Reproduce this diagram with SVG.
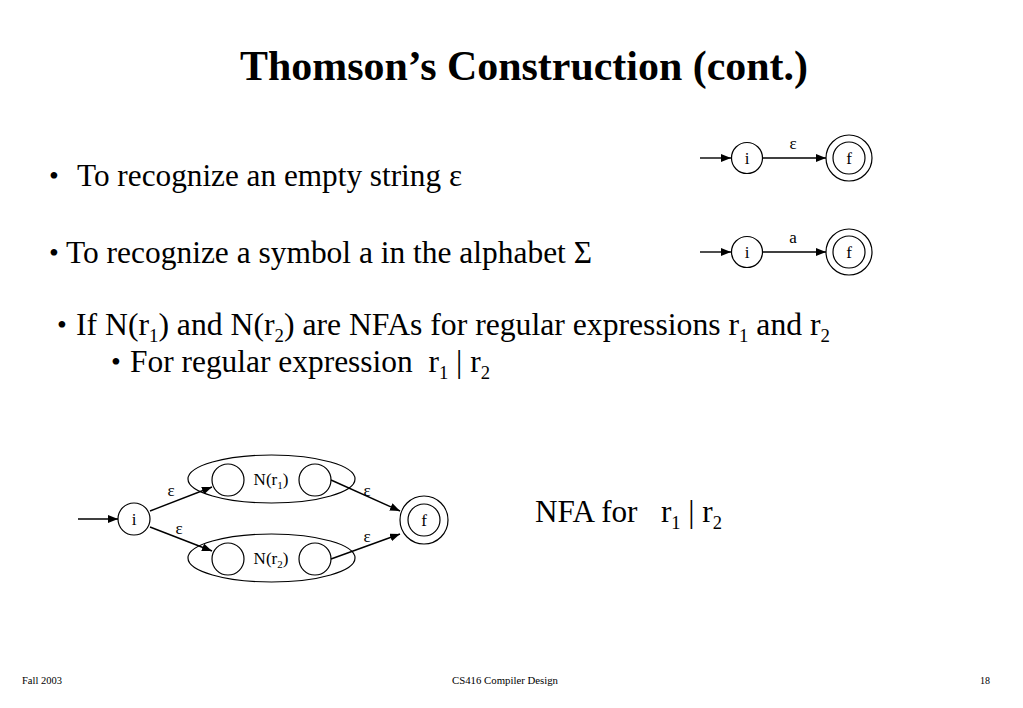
<svg xmlns="http://www.w3.org/2000/svg" width="1023" height="708" viewBox="0 0 1023 708">
<style>
text{font-family:"Liberation Serif","Times New Roman",serif;fill:#000}
.t{font-size:32px}
.b{font-size:28px}
.s{font-size:19px}
.n{font-size:17px}
.ns{font-size:11px}
.f{font-size:11px}
.st{fill:#fff;stroke:#000;stroke-width:1.2}
.e{fill:none;stroke:#000;stroke-width:1.4}
</style>
<defs>
<marker id="ah" viewBox="0 0 10 8" refX="10" refY="4" markerWidth="10" markerHeight="8" markerUnits="userSpaceOnUse" orient="auto">
<path d="M0,0 L10,4 L0,8 z" fill="#000"/>
</marker>
</defs>
<rect width="1023" height="708" fill="#fff"/>

<text x="240" y="80" font-size="43" font-weight="bold" textLength="568" lengthAdjust="spacingAndGlyphs">Thomson’s Construction (cont.)</text>

<text class="b" x="49" y="185">•</text>
<text class="t" x="77" y="186" textLength="385" lengthAdjust="spacingAndGlyphs">To recognize an empty string ε</text>
<text class="b" x="49" y="262">•</text>
<text class="t" x="66" y="263" textLength="526" lengthAdjust="spacingAndGlyphs">To recognize a symbol a in the alphabet Σ</text>
<text class="b" x="57" y="334">•</text>
<text class="t" x="76" y="335" textLength="754" lengthAdjust="spacingAndGlyphs">If N(r<tspan class="s" dy="7">1</tspan><tspan dy="-7">) and N(r</tspan><tspan class="s" dy="7">2</tspan><tspan dy="-7">) are NFAs for regular expressions r</tspan><tspan class="s" dy="7">1</tspan><tspan dy="-7"> and r</tspan><tspan class="s" dy="7">2</tspan></text>
<text class="b" x="111" y="371">•</text>
<text class="t" x="130" y="372" textLength="360" lengthAdjust="spacingAndGlyphs" xml:space="preserve">For regular expression  r<tspan class="s" dy="7">1</tspan><tspan dy="-7"> | r</tspan><tspan class="s" dy="7">2</tspan></text>
<text class="t" x="535" y="522" textLength="187" lengthAdjust="spacingAndGlyphs" xml:space="preserve">NFA for   r<tspan class="s" dy="7">1</tspan><tspan dy="-7"> | r</tspan><tspan class="s" dy="7">2</tspan></text>

<g id="i1"><circle class="st" cx="747" cy="158" r="15.5"/><text class="n" x="747" y="164" text-anchor="middle">i</text></g>
<g id="f1"><circle class="st" cx="849" cy="158" r="23"/><circle class="st" cx="849" cy="158" r="16"/><text class="n" x="849" y="164" text-anchor="middle">f</text></g>
<g id="i2"><circle class="st" cx="747" cy="252" r="15.5"/><text class="n" x="747" y="258" text-anchor="middle">i</text></g>
<g id="f2"><circle class="st" cx="849" cy="252" r="23"/><circle class="st" cx="849" cy="252" r="16"/><text class="n" x="849" y="258" text-anchor="middle">f</text></g>

<g id="i3"><circle class="st" cx="134" cy="519" r="16"/><text class="n" x="134" y="525" text-anchor="middle">i</text></g>
<g id="nr1">
<ellipse class="st" cx="271.5" cy="479" rx="83.5" ry="24"/>
<circle class="st" cx="228" cy="480" r="16"/>
<circle class="st" cx="315" cy="480" r="16"/>
<text class="n" x="271" y="485" text-anchor="middle" font-size="16">N(r<tspan class="ns" dy="4">1</tspan><tspan dy="-4">)</tspan></text>
</g>
<g id="nr2">
<ellipse class="st" cx="271.5" cy="558" rx="83.5" ry="24"/>
<circle class="st" cx="228" cy="559" r="16"/>
<circle class="st" cx="315" cy="559" r="16"/>
<text class="n" x="271" y="564" text-anchor="middle" font-size="16">N(r<tspan class="ns" dy="4">2</tspan><tspan dy="-4">)</tspan></text>
</g>
<g id="f3"><circle class="st" cx="424" cy="520" r="24"/><circle class="st" cx="424" cy="520" r="16"/><text class="n" x="424" y="526" text-anchor="middle">f</text></g>

<g id="connectors">
<line class="e" x1="700" y1="158" x2="731" y2="158" marker-end="url(#ah)"/>
<line class="e" x1="763" y1="158" x2="826" y2="158" marker-end="url(#ah)"/>
<line class="e" x1="700" y1="252" x2="731" y2="252" marker-end="url(#ah)"/>
<line class="e" x1="763" y1="252" x2="826" y2="252" marker-end="url(#ah)"/>
<line class="e" x1="78" y1="519" x2="118" y2="519" marker-end="url(#ah)"/>
<line class="e" x1="150" y1="511" x2="212" y2="487" marker-end="url(#ah)"/>
<line class="e" x1="150" y1="527" x2="212" y2="551" marker-end="url(#ah)"/>
<line class="e" x1="331" y1="480" x2="400" y2="511" marker-end="url(#ah)"/>
<line class="e" x1="331" y1="559" x2="400" y2="534" marker-end="url(#ah)"/>
<text class="n" x="793" y="149" text-anchor="middle">ε</text>
<text class="n" x="793" y="243" text-anchor="middle">a</text>
<text class="n" x="171" y="496" text-anchor="middle">ε</text>
<text class="n" x="179" y="534" text-anchor="middle">ε</text>
<text class="n" x="367" y="496" text-anchor="middle">ε</text>
<text class="n" x="367" y="542" text-anchor="middle">ε</text>
</g>

<text class="f" x="22" y="684" textLength="40" lengthAdjust="spacingAndGlyphs">Fall 2003</text>
<text class="f" x="452" y="684" textLength="106" lengthAdjust="spacingAndGlyphs">CS416 Compiler Design</text>
<text class="f" x="980" y="684" textLength="10" lengthAdjust="spacingAndGlyphs">18</text>
</svg>
